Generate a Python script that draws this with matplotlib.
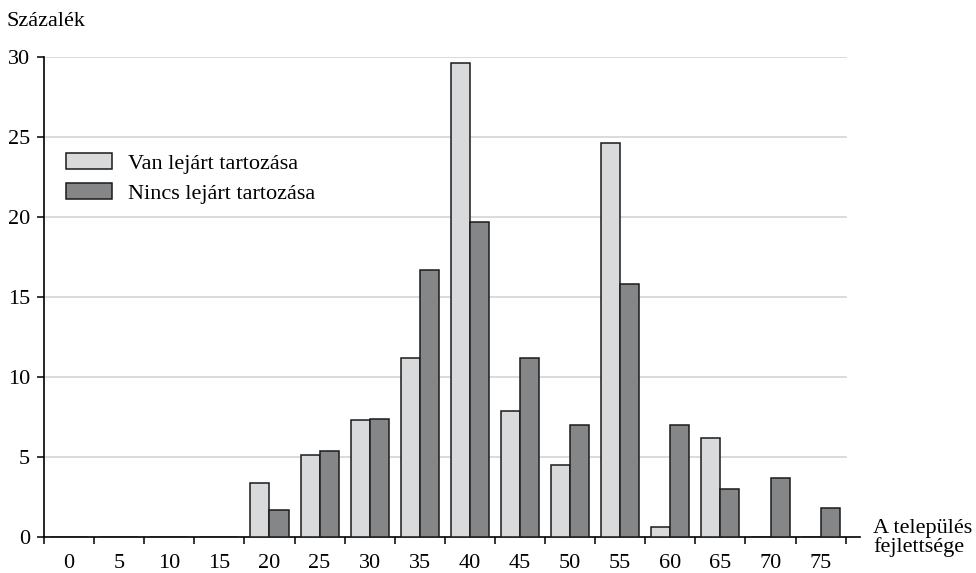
import numpy as np
import matplotlib
matplotlib.use("Agg")
import matplotlib.pyplot as plt

plt.rcParams['font.family'] = ['Liberation Serif', 'DejaVu Serif']

# a település fejlettsége (kategóriák)
categories = ['0', '5', '10', '15', '20', '25', '30', '35', '40', '45',
              '50', '55', '60', '65', '70', '75']
# Van lejárt tartozása (%)
van = [0, 0, 0, 0, 3.4, 5.1, 7.3, 11.2, 29.6, 7.9, 4.5, 24.6, 0.6, 6.2, 0, 0]
# Nincs lejárt tartozása (%)
nincs = [0, 0, 0, 0, 1.7, 5.4, 7.4, 16.7, 19.7, 11.2, 7.0, 15.8, 7.0, 3.0, 3.7, 1.8]

light = '#d9dadc'
dark = '#858688'
fs = 16

fig = plt.figure(figsize=(9.76, 5.73), dpi=100)
# tengely jobb széle a meghosszabbított x-tengelyhez igazodik
ax = fig.add_axes([44 / 976, 1 - 537 / 573, (860 - 44) / 976, (537 - 57) / 573])

x = np.arange(len(categories))
w = 0.38
ax.bar(x - w / 2, van, width=w, color=light, edgecolor='#1a1a1a', linewidth=1.1,
       label='Van lejárt tartozása', zorder=3)
ax.bar(x + w / 2, nincs, width=w, color=dark, edgecolor='#1a1a1a', linewidth=1.1,
       label='Nincs lejárt tartozása', zorder=3)

xmin, xmax_grid = -0.5, len(categories) - 0.5
xmax = xmin + (860 - 44) / ((845.7 - 44) / len(categories))
ax.set_xlim(xmin, xmax)
ax.set_ylim(0, 30)

# rácsvonalak
for yv in range(5, 31, 5):
    ax.plot([xmin, xmax_grid], [yv, yv], color='#d4d4d4', linewidth=1.2, zorder=1)

ax.set_yticks(range(0, 31, 5))
ax.set_xticks(np.arange(-0.5, len(categories), 1.0))
ax.set_xticklabels([])
ax.set_xticks(x, minor=True)
ax.set_xticklabels(categories, minor=True)
ax.tick_params(axis='x', which='minor', length=0, pad=12, labelsize=fs)
ax.tick_params(axis='x', which='major', length=5, width=1.1, direction='out')
ax.tick_params(axis='y', length=5, width=1.1, direction='out', labelsize=fs, pad=5)

for s in ['top', 'right']:
    ax.spines[s].set_visible(False)
ax.spines['left'].set_linewidth(1.2)
ax.spines['bottom'].set_linewidth(1.2)

fig.text(7 / 976, 1 - 21 / 573, 'Százalék', fontsize=fs, va='center', ha='left')
fig.text(873 / 976, 1 - 538 / 573, 'A település\nfejlettsége', fontsize=fs,
         va='center', ha='left', linespacing=1.0)

ax.legend(loc='upper left', bbox_to_anchor=(22 / 816, 1 - 96 / 480), frameon=False,
          fontsize=fs, handlelength=2.07, handleheight=0.75, handletextpad=0.7,
          labelspacing=0.4, borderaxespad=0, borderpad=0)

fig.savefig('out.png', dpi=100)
